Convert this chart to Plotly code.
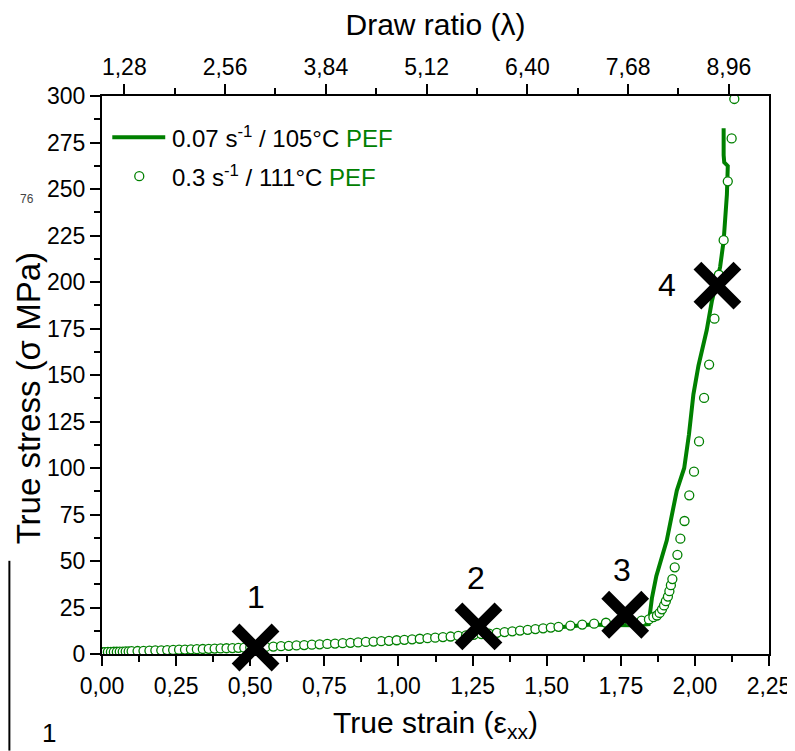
import plotly.graph_objects as go

# ---- data ----
strain_line = [0.00, 0.10, 0.20, 0.30, 0.40, 0.50, 0.60, 0.70, 0.80, 0.90, 1.00, 1.10, 1.20,
               1.30, 1.40, 1.50, 1.55, 1.60, 1.65, 1.70, 1.75, 1.80, 1.844, 1.855, 1.870,
               1.884, 1.905, 1.939, 1.964, 1.980, 1.995, 2.012, 2.030, 2.040, 2.057, 2.070,
               2.085, 2.097, 2.108, 2.111, 2.099, 2.097, 2.097]
stress_line = [1.0, 1.5, 2.0, 2.5, 3.0, 3.5, 4.2, 5.0, 5.8, 6.5, 7.4, 8.4, 9.6,
               10.9, 12.4, 13.8, 14.6, 15.2, 15.9, 15.6, 15.4, 15.5, 16.0, 30.0, 42.0,
               50.0, 61.0, 87.9, 100.0, 118.0, 139.6, 155.0, 166.0, 174.2, 189.5, 198.0,
               208.0, 222.1, 247.0, 262.4, 264.3, 268.2, 282.6]

strain_pts = [0.000, 0.010, 0.020, 0.030, 0.040, 0.050, 0.060, 0.070, 0.080, 0.090, 0.100,
              0.120, 0.140, 0.160, 0.180, 0.200, 0.220, 0.240, 0.260, 0.280, 0.300, 0.320,
              0.340, 0.360, 0.380, 0.400, 0.420, 0.440, 0.460, 0.480, 0.500, 0.526, 0.552,
              0.578, 0.604, 0.630, 0.656, 0.682, 0.708, 0.734, 0.760, 0.786, 0.812, 0.838,
              0.864, 0.890, 0.916, 0.942, 0.968, 0.994, 1.020, 1.046, 1.072, 1.098, 1.124,
              1.150, 1.176, 1.202, 1.228, 1.254, 1.280, 1.306, 1.332, 1.358, 1.384, 1.410,
              1.436, 1.462, 1.488, 1.514, 1.540, 1.580, 1.620, 1.660, 1.700, 1.740, 1.780,
              1.820, 1.845, 1.860, 1.872, 1.881, 1.889, 1.896, 1.902, 1.909, 1.914, 1.919,
              1.924, 1.932, 1.941, 1.951, 1.965, 1.981, 1.997, 2.014, 2.031, 2.048, 2.066,
              2.081, 2.097, 2.111, 2.124, 2.133]
stress_pts = [1.0, 1.0, 1.1, 1.1, 1.2, 1.2, 1.3, 1.3, 1.4, 1.4, 1.5,
              1.6, 1.7, 1.8, 1.9, 2.0, 2.1, 2.2, 2.3, 2.4, 2.5, 2.6,
              2.7, 2.8, 2.9, 3.0, 3.1, 3.2, 3.3, 3.4, 3.5, 3.7, 3.8,
              4.0, 4.2, 4.4, 4.6, 4.8, 5.0, 5.2, 5.4, 5.6, 5.8, 6.0,
              6.2, 6.5, 6.7, 6.9, 7.1, 7.4, 7.6, 7.9, 8.2, 8.5, 8.8,
              9.1, 9.4, 9.7, 10.0, 10.3, 10.7, 11.0, 11.4, 11.8, 12.2, 12.6,
              13.0, 13.4, 13.8, 14.2, 14.6, 15.3, 15.8, 16.3, 16.8, 17.2, 17.5,
              17.9, 18.6, 19.8, 20.7, 22.1, 24.0, 26.1, 28.4, 30.9, 33.8, 37.0,
              40.3, 46.6, 53.3, 62.0, 71.5, 85.3, 98.0, 114.3, 137.7, 155.6, 180.3,
              203.9, 222.5, 254.1, 277.2, 298.4]

stage_labels = ["1", "2", "3", "4"]
stage_strain = [0.518, 1.270, 1.765, 2.076]
stage_stress = [3.5, 14.8, 21.1, 198.1]
label_strain = [0.520, 1.263, 1.755, 1.905]
label_stress = [30.8, 41.0, 45.3, 198.3]

legend_names = ["0.07 s<sup>-1</sup> / 105°C <span style='color:#008000'>PEF</span>",
                "0.3 s<sup>-1</sup> / 111°C <span style='color:#008000'>PEF</span>"]

GREEN = "#008000"
FONT = "Arial, Liberation Sans, sans-serif"

OFF = 8                      # page body margin of the html page
WIN_W, WIN_H = 795, 751
X0, X1, Y0, Y1 = 101.7, 769.3, 95.7, 654.3   # plot box in window pixels
PW, PH = X1 - X0, Y1 - Y0
W, H = WIN_W - OFF, WIN_H - OFF
L, T = X0 - OFF, Y0 - OFF
R, B = W - L - PW, H - T - PH


def px(xp):
    return (xp - X0) / PW


def py(yp):
    return (Y1 - yp) / PH


fig = go.Figure()
fig.add_trace(go.Scatter(x=strain_line, y=stress_line, mode="lines",
                         line=dict(color=GREEN, width=4), showlegend=False))
fig.add_trace(go.Scatter(x=strain_pts, y=stress_pts, mode="markers",
                         marker=dict(symbol="circle", size=9, color="white",
                                     line=dict(color=GREEN, width=1.3)),
                         showlegend=False))
fig.add_trace(go.Scatter(x=stage_strain, y=stage_stress, mode="markers",
                         marker=dict(symbol="x-thin", size=40, color="black",
                                     line=dict(color="black", width=11)),
                         cliponaxis=False, showlegend=False))
# invisible trace to activate top axis
fig.add_trace(go.Scatter(x=[1.0, 9.47], y=[None, None], xaxis="x2", mode="markers",
                         showlegend=False, hoverinfo="skip"))

for t, xs, ys in zip(stage_labels, label_strain, label_stress):
    fig.add_annotation(x=xs, y=ys, text=t, showarrow=False,
                       font=dict(size=32, color="black", family=FONT))

# manual legend
fig.add_shape(type="line", xref="paper", yref="paper", x0=px(112), x1=px(165),
              y0=py(137), y1=py(137), line=dict(color=GREEN, width=4))
fig.add_shape(type="circle", xref="paper", yref="paper", xsizemode="pixel", ysizemode="pixel",
              xanchor=px(139), yanchor=py(176), x0=-4.5, x1=4.5, y0=-4.5, y1=4.5,
              line=dict(color=GREEN, width=1.3), fillcolor="white")
for name, yy in zip(legend_names, [137, 176]):
    fig.add_annotation(xref="paper", yref="paper", x=px(170), y=py(yy), text=name,
                       showarrow=False, xanchor="left", yanchor="middle",
                       font=dict(size=24, color="black", family=FONT))

# y-axis title (placed like in the source: slightly below the axis centre)
fig.add_annotation(xref="paper", yref="paper", x=px(29), y=py(398), text="True stress (σ MPa)",
                   textangle=-90, showarrow=False, xanchor="center", yanchor="middle",
                   font=dict(size=33, color="black", family=FONT))

# stray artefacts at left edge of the source image
fig.add_annotation(xref="paper", yref="paper", x=px(18), y=py(190), text="76", showarrow=False,
                   font=dict(size=12, color="#444444", family=FONT))
fig.add_annotation(xref="paper", yref="paper", x=px(40), y=py(750), text="1", showarrow=False,
                   yanchor="bottom", font=dict(size=26, color="black", family=FONT))
fig.add_shape(type="line", xref="paper", yref="paper", x0=px(9), x1=px(9), y0=py(561), y1=py(751),
              line=dict(color="black", width=2))

axis_common = dict(showline=True, linecolor="black", linewidth=2, ticks="outside",
                   tickcolor="black", tickwidth=2, ticklen=10, showgrid=False, zeroline=False,
                   automargin=False,
                   tickfont=dict(size=23, color="black", family=FONT))

fig.update_layout(
    width=W, height=H, margin=dict(l=L, r=R, t=T, b=B, pad=0),
    paper_bgcolor="white", plot_bgcolor="white",
    separators=",.",
    font=dict(family=FONT, color="black"),
    xaxis=dict(range=[0, 2.25], dtick=0.25, tick0=0, tickformat=".2f",
               minor=dict(dtick=0.125, ticks="outside", ticklen=6, tickwidth=2, tickcolor="black"),
               title=dict(text="True strain (ε<sub>xx</sub>)", font=dict(size=30, family=FONT),
                          standoff=14),
               **axis_common),
    xaxis2=dict(range=[0.997, 9.47], overlaying="x", side="top", anchor="y",
                tick0=1.28, dtick=1.28, tickformat=".2f",
                minor=dict(dtick=0.64, ticks="outside", ticklen=6, tickwidth=2, tickcolor="black"),
                title=dict(text="Draw ratio (λ)", font=dict(size=30, family=FONT), standoff=12),
                **axis_common),
    yaxis=dict(range=[0, 300], dtick=25, tick0=0, mirror=True,
               minor=dict(dtick=12.5, ticks="outside", ticklen=6, tickwidth=2, tickcolor="black"),
               **axis_common),
    showlegend=False,
)

fig.write_html("out.html")
